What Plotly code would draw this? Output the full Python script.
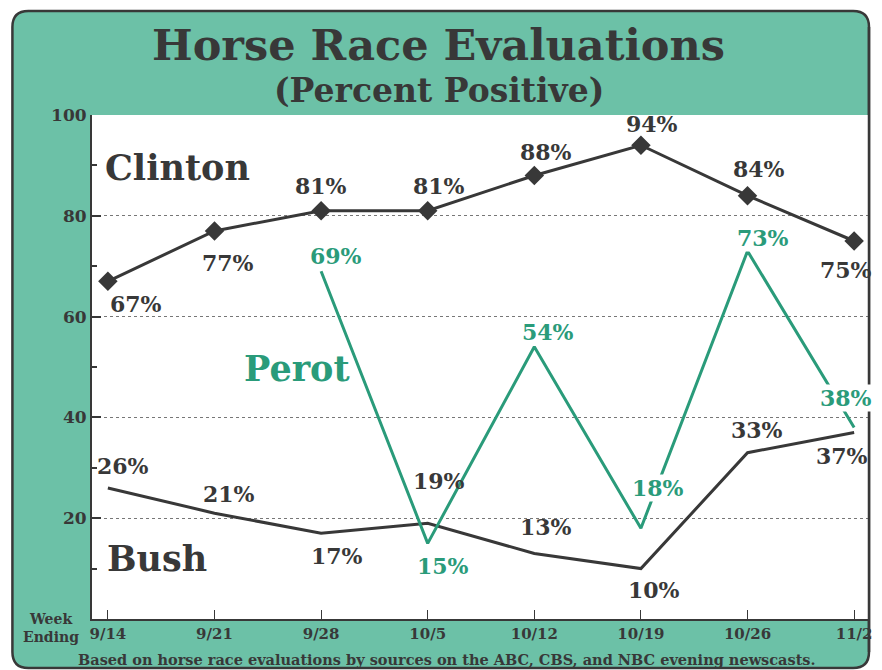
import plotly.graph_objects as go

# ---------------- data ----------------
weeks = ["9/14", "9/21", "9/28", "10/5", "10/12", "10/19", "10/26", "11/2"]
clinton = [67, 77, 81, 81, 88, 94, 84, 75]
bush = [26, 21, 17, 19, 13, 10, 33, 37]
perot_weeks = ["9/28", "10/5", "10/12", "10/19", "10/26", "11/2"]
perot = [69, 15, 54, 18, 73, 38]
y_ticks = [20, 40, 60, 80, 100]

# label offsets in pixels (dx right, dy down) – styling only
clinton_off = [(28, 23), (14, 32), (0, -25), (11, -25), (12, -23), (11, -21), (11, -27), (-8, 29)]
bush_off = [(15, -22), (15, -19), (16, 23), (11, -42), (12, -26), (13, 21), (9, -23), (-12, 23)]
perot_off = [(15, -15), (15, 23), (14, -15), (17, -40), (15, -13), (-8, -29)]

DARK = "#383838"
TEAL_BG = "#6cc1a7"
TEAL = "#2a9b7a"
COND = "DejaVu Serif, serif"
WIDE = "DejaVu Serif, serif"

W, H = 882, 670
L, R, T, B = 92, 872, 115, 619


def px(x):
    return (x - L) / (R - L)


def py(y):
    return (B - y) / (B - T)


fig = go.Figure()
fig.add_trace(go.Scatter(x=weeks, y=bush, mode="lines",
                         line=dict(color=DARK, width=3), hoverinfo="skip"))
fig.add_trace(go.Scatter(x=perot_weeks, y=perot, mode="lines",
                         line=dict(color=TEAL, width=3), hoverinfo="skip"))
fig.add_trace(go.Scatter(x=weeks, y=clinton, mode="lines+markers",
                         line=dict(color=DARK, width=3),
                         marker=dict(symbol="diamond", size=15, color=DARK),
                         hoverinfo="skip"))

ann = []


def lab(x, v, off, color, bg=None):
    d = dict(x=x, y=v, xref="x", yref="y", text=f"{v}%", showarrow=False,
             xanchor="center", yanchor="middle",
             xshift=off[0], yshift=-off[1],
             font=dict(family=WIDE, size=22, color=color, weight="bold"))
    if bg:
        d.update(bgcolor=bg, borderpad=0)
    ann.append(d)


def txt(x, y, s, size, color=DARK, family=WIDE):
    ann.append(dict(x=px(x), y=py(y), xref="paper", yref="paper", text=s, showarrow=False,
                    xanchor="center", yanchor="middle",
                    font=dict(family=family, size=size, color=color, weight="bold")))


for w, v, o in zip(weeks, clinton, clinton_off):
    lab(w, v, o, DARK)
for w, v, o in zip(weeks, bush, bush_off):
    lab(w, v, o, DARK)
for w, v, o in zip(perot_weeks, perot, perot_off):
    lab(w, v, o, TEAL, bg="white")

# series names
txt(178, 167, "Clinton", 35)
txt(157, 558, "Bush", 35)
txt(298, 368, "Perot", 35, TEAL)

# titles
txt(440, 45, "Horse Race Evaluations", 43, family=COND)
txt(441, 91, "(Percent Positive)", 33, family=COND)
# week ending
txt(50, 619, "Week", 14, family=COND)
txt(51, 637, "Ending", 14, family=COND)
# footnote
txt(449, 659, "Based on horse race evaluations by sources on the ABC, CBS, and NBC evening newscasts.",
    14.5, family=COND)

# frame shapes
x0, x1, y0, y1, r = 12, 873, 11, 668, 16
path = (f"M {px(x0 + r)} {py(y0)} L {px(x1 - r)} {py(y0)} Q {px(x1)} {py(y0)} {px(x1)} {py(y0 + r)} "
        f"L {px(x1)} {py(y1 - r)} Q {px(x1)} {py(y1)} {px(x1 - r)} {py(y1)} "
        f"L {px(x0 + r)} {py(y1)} Q {px(x0)} {py(y1)} {px(x0)} {py(y1 - r)} "
        f"L {px(x0)} {py(y0 + r)} Q {px(x0)} {py(y0)} {px(x0 + r)} {py(y0)} Z")
shapes = [
    dict(type="path", path=path, xref="paper", yref="paper", layer="below",
         fillcolor=TEAL_BG, line=dict(color=DARK, width=2.5)),
    dict(type="rect", x0=0, x1=px(x1 - 1), y0=0, y1=1, xref="paper", yref="paper",
         layer="below", fillcolor="white", line=dict(width=0)),
    dict(type="line", x0=px(x1), x1=px(x1), y0=py(y1 - r), y1=py(y0 + r), xref="paper", yref="paper",
         line=dict(color=DARK, width=2.5)),
]

fig.update_layout(
    width=W, height=H,
    margin=dict(l=L, r=W - R, t=T, b=H - B),
    paper_bgcolor="white", plot_bgcolor="rgba(0,0,0,0)",
    showlegend=False, annotations=ann, shapes=shapes,
    xaxis=dict(type="category", range=[-0.149, 7.13], showgrid=False,
               showline=True, linecolor=DARK, linewidth=2, ticks="inside", ticklen=9,
               tickcolor=DARK, tickwidth=1,
               tickfont=dict(family=COND, size=15, color=DARK, weight="bold"),
               fixedrange=True, zeroline=False),
    yaxis=dict(range=[0, 100], tickvals=y_ticks, showgrid=True, gridcolor="#777",
               griddash="dot", gridwidth=1, showline=True, linecolor=DARK, linewidth=2,
               ticks="inside", ticklen=9, tickcolor=DARK, tickwidth=1.5,
               minor=dict(tickvals=[10, 30, 50, 70, 90], ticks="inside", ticklen=5,
                          tickcolor=DARK, showgrid=False),
               tickfont=dict(family=WIDE, size=17, color=DARK, weight="bold"),
               zeroline=False, fixedrange=True),
)

fig.write_html("out.html")
